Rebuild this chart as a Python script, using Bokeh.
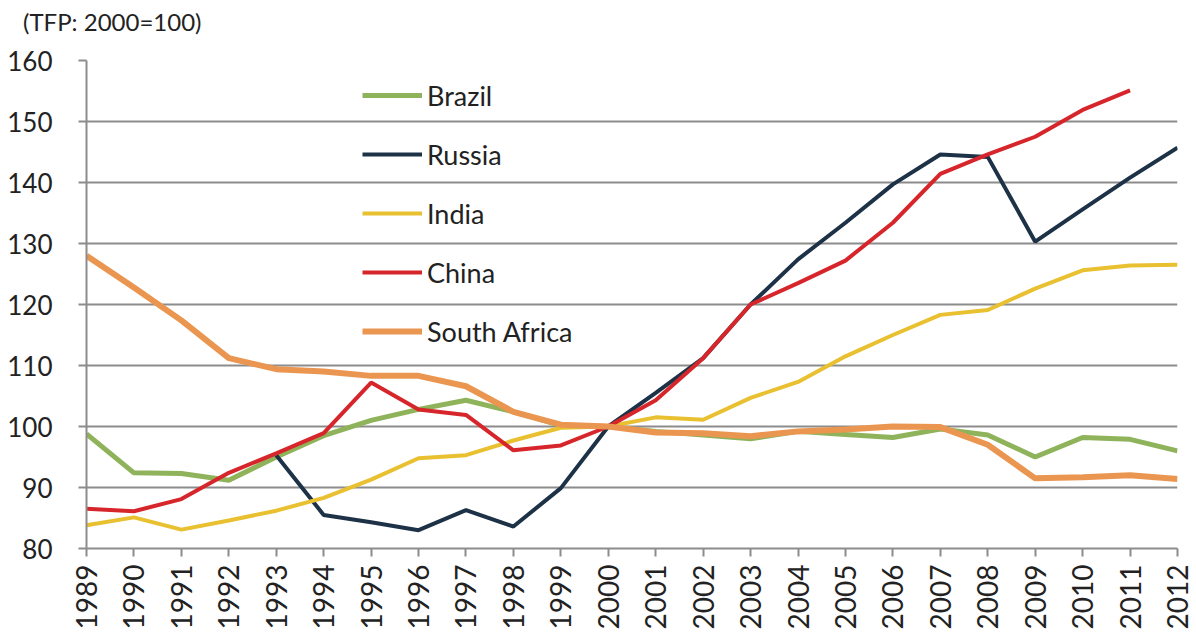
from bokeh.plotting import figure
from bokeh.models import Range1d, FixedTicker, Legend, LegendItem, Div
from bokeh.layouts import column
from bokeh.embed import file_html
from bokeh.resources import INLINE
import math

years = list(range(1989, 2013))
brazil = [98.8, 92.4, 92.3, 91.2, 95.0, 98.5, 101.0, 102.8, 104.3, 102.4, 100.2, 100.0,
          99.2, 98.6, 98.0, 99.2, 98.7, 98.2, 99.6, 98.6, 95.0, 98.2, 97.9, 96.0]
russia_years = list(range(1993, 2013))
russia = [95.3, 85.5, 84.3, 83.0, 86.3, 83.6, 89.9, 100.0,
          105.5, 111.2, 120.0, 127.4, 133.4, 139.7, 144.6, 144.2, 130.3, 135.6, 140.8, 145.7]
india = [83.8, 85.1, 83.1, 84.6, 86.2, 88.3, 91.3, 94.8, 95.3, 97.7, 99.8, 100.0,
         101.5, 101.1, 104.7, 107.3, 111.5, 115.0, 118.3, 119.1, 122.6, 125.6, 126.4, 126.5]
china_years = list(range(1989, 2012))
china = [86.5, 86.1, 88.1, 92.4, 95.6, 98.9, 107.2, 102.8, 101.9, 96.1, 96.9, 100.0,
         104.3, 111.2, 120.0, 123.5, 127.2, 133.4, 141.4, 144.6, 147.5, 151.9, 155.1]
safrica = [128.0, 122.8, 117.4, 111.2, 109.4, 109.0, 108.3, 108.3, 106.6, 102.4, 100.3, 100.0,
           99.0, 98.9, 98.4, 99.2, 99.5, 100.0, 99.9, 97.0, 91.5, 91.7, 92.0, 91.4]
unit_note = "(TFP: 2000=100)"

FONT = "Lato"
GRID = "#8c8c8c"
TEXT = "#222222"

head = Div(text=('<div style="margin-left:23px; font-family:Lato; font-size:24px; '
                 'color:#222222; line-height:44px; white-space:nowrap;">'
                 + unit_note + '</div>'),
           width=1196, height=44, margin=(0, 0, 0, 0))

p = figure(width=1196, height=588, output_backend="svg", toolbar_location=None,
           x_range=Range1d(1989, 2012), y_range=Range1d(80, 160),
           min_border_left=86, min_border_right=19, min_border_top=16, min_border_bottom=80)
p.outline_line_color = None
p.background_fill_color = "white"

p.xgrid.grid_line_color = None
p.ygrid.grid_line_color = GRID
p.ygrid.grid_line_width = 2
p.yaxis.ticker = FixedTicker(ticks=list(range(80, 161, 10)))
p.xaxis.ticker = FixedTicker(ticks=years)

for ax in (p.xaxis[0], p.yaxis[0]):
    ax.axis_line_color = GRID
    ax.axis_line_width = 2
    ax.major_tick_line_color = GRID
    ax.major_tick_line_width = 2
    ax.minor_tick_line_color = None
    ax.major_label_text_font = FONT
    ax.major_label_text_color = TEXT
    ax.major_tick_in = 0
    ax.major_tick_out = 8

p.yaxis.major_label_text_font_size = "26px"
p.xaxis.major_label_text_font_size = "28px"
p.yaxis.major_label_standoff = 26
p.xaxis.major_label_orientation = math.pi / 2
p.xaxis.major_label_standoff = 8

r_br = p.line(years, brazil, line_color="#8FB35A", line_width=5)
r_ru = p.line(russia_years, russia, line_color="#1E3247", line_width=4)
r_in = p.line(years, india, line_color="#E8C030", line_width=4)
r_ch = p.line(china_years, china, line_color="#D7262B", line_width=4)
r_sa = p.line(years, safrica, line_color="#EB9650", line_width=6)

legend = Legend(items=[
    LegendItem(label="Brazil", renderers=[r_br]),
    LegendItem(label="Russia", renderers=[r_ru]),
    LegendItem(label="India", renderers=[r_in]),
    LegendItem(label="China", renderers=[r_ch]),
    LegendItem(label="South Africa", renderers=[r_sa]),
], location=(276, 200))
legend.background_fill_alpha = 0
legend.border_line_alpha = 0
legend.padding = 0
legend.margin = 0
legend.glyph_width = 60
legend.glyph_height = 34
legend.label_height = 34
legend.spacing = 25
legend.label_standoff = 5
legend.label_text_font = FONT
legend.label_text_font_size = "27px"
legend.label_text_color = TEXT
p.add_layout(legend, "center")

layout = column(head, p, spacing=0)
open("out.html", "w").write(file_html(layout, INLINE))
